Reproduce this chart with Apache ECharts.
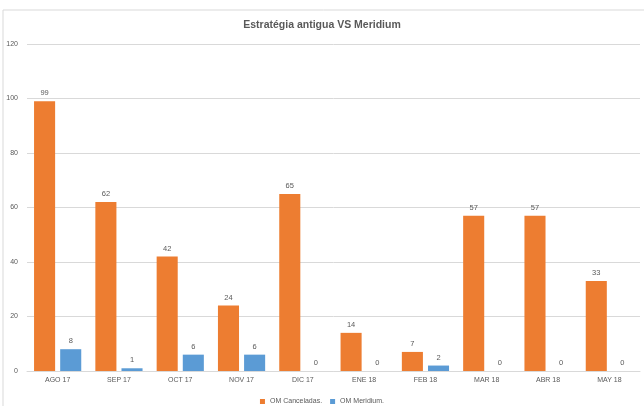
<!DOCTYPE html>
<html>
<head>
<meta charset="utf-8">
<script src="https://cdn.jsdelivr.net/npm/echarts@6/dist/echarts.min.js"></script>
<style>
  html, body { margin: 0; padding: 0; background: #fff; }
  #chart { width: 644px; height: 406px; }
</style>
</head>
<body>
<div id="chart"></div>
<script>
const months = ["AGO 17", "SEP 17", "OCT 17", "NOV 17", "DIC 17", "ENE 18", "FEB 18", "MAR 18", "ABR 18", "MAY 18"];
const canceladas = [99, 62, 42, 24, 65, 14, 7, 57, 57, 33];
const meridium = [8, 1, 6, 6, 0, 0, 2, 0, 0, 0];

const fontName = "Liberation Sans, sans-serif";
const myChart = echarts.init(document.getElementById("chart"));

const labelStyle = {
  show: true,
  position: "top",
  distance: 4,
  color: "#595959",
  fontSize: 7.5,
  fontFamily: fontName
};

var option = {
  animation: false,
  textStyle: { fontFamily: fontName },
  // frame lines of the chart area
  graphic: [
    { type: "line", shape: { x1: 3, y1: 10, x2: 644, y2: 10 }, style: { stroke: "#D9D9D9", lineWidth: 1 } },
    { type: "line", shape: { x1: 3, y1: 10, x2: 3, y2: 406 }, style: { stroke: "#D9D9D9", lineWidth: 1 } }
  ],
  title: {
    text: "Estratégia antigua VS Meridium",
    left: "center",
    top: 15,
    textStyle: { fontSize: 10.5, fontWeight: "bold", color: "#595959", fontFamily: fontName }
  },
  legend: {
    top: 393,
    left: "center",
    itemWidth: 5,
    itemHeight: 5,
    itemGap: 8,
    icon: "rect",
    textStyle: { fontSize: 7, color: "#595959", fontFamily: fontName },
    data: ["OM Canceladas.", "OM Meridium."]
  },
  grid: { left: 27, right: 4, top: 44, bottom: 35 },
  xAxis: {
    type: "category",
    data: months,
    axisLine: { lineStyle: { color: "#D9D9D9" } },
    axisTick: { show: false },
    axisLabel: { color: "#595959", fontSize: 7, margin: 6, fontFamily: fontName }
  },
  yAxis: {
    type: "value",
    min: 0,
    max: 120,
    interval: 20,
    axisLine: { show: false },
    axisTick: { show: false },
    axisLabel: { color: "#595959", fontSize: 7, margin: 9, fontFamily: fontName },
    splitLine: { lineStyle: { color: "#D9D9D9" } }
  },
  series: [
    {
      name: "OM Canceladas.",
      type: "bar",
      data: canceladas,
      itemStyle: { color: "#ED7D31" },
      barGap: "24%",
      barCategoryGap: "23%",
      label: labelStyle
    },
    {
      name: "OM Meridium.",
      type: "bar",
      data: meridium,
      itemStyle: { color: "#5B9BD5" },
      label: labelStyle
    }
  ]
};

myChart.setOption(option);
</script>
</body>
</html>
